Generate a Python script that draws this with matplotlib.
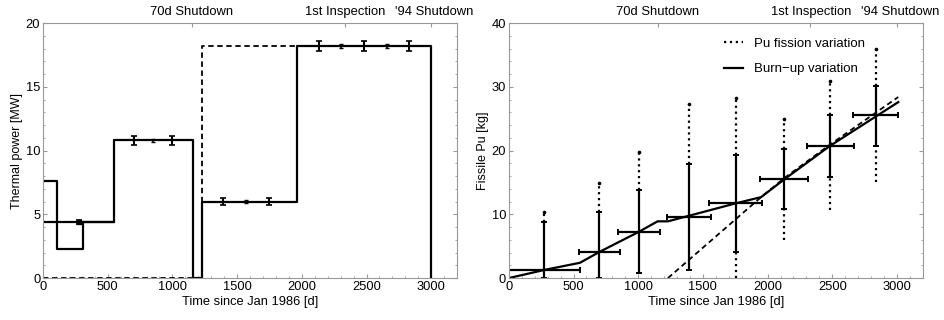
import numpy as np
import matplotlib
matplotlib.use("Agg")
import matplotlib.pyplot as plt
from matplotlib.lines import Line2D

plt.rcParams["font.family"] = ["Liberation Sans", "DejaVu Sans"]

# left panel: thermal power history (step edges)
power_x = [0, 110, 110, 310, 310, 550, 550, 1160, 1160, 1230, 1230, 1960, 1960, 3000, 3000]
power_y = [7.6, 7.6, 2.3, 2.3, 4.4, 4.4, 10.8, 10.8, 0, 0, 6.0, 6.0, 18.2, 18.2, 0]
avg_x = [0, 550]
avg_y = [4.4, 4.4]
alt_x = [0, 1230, 1230, 1960]
alt_y = [0, 0, 18.2, 18.2]

pow_err_x = [275, 700, 1000, 1390, 1750, 2130, 2480, 2830]
pow_err_y = [4.4, 10.8, 10.8, 6.0, 6.0, 18.2, 18.2, 18.2]
pow_err = [0.15, 0.35, 0.35, 0.25, 0.25, 0.4, 0.4, 0.4]
pow_mid_x = [850, 1565, 2305, 2655]
pow_mid_y = [10.8, 6.0, 18.2, 18.2]

# right panel: fissile Pu
burn_x = [0, 280, 550, 700, 1000, 1150, 1230, 1750, 1950, 2130, 2480, 3010]
burn_y = [0, 1.3, 2.4, 4.1, 7.2, 8.9, 8.9, 11.7, 12.7, 15.5, 20.7, 27.6]
alt_pu_x = [1230, 1950, 2130, 2480, 3010]
alt_pu_y = [0, 12.7, 15.7, 20.9, 28.4]

pu_x = [275, 700, 1005, 1392, 1753, 2126, 2484, 2835]
pu_y = [1.3, 4.1, 7.2, 9.6, 11.7, 15.5, 20.7, 25.5]
pu_xerr = [275, 160, 160, 170, 205, 185, 180, 175]
burn_lo = [0, 0, 0.8, 1.2, 4.1, 10.9, 15.9, 20.7]
burn_hi = [8.8, 10.3, 13.8, 17.9, 19.3, 20.2, 25.5, 30.2]
fis_lo = [0, 0, 0.8, 1.2, 0, 6.0, 10.6, 15.0]
fis_hi = [10.4, 14.9, 19.8, 27.3, 28.2, 25.0, 30.9, 35.9]

event_ticks = [1150, 2330, 3000]
event_text_x = [1150, 2335, 3025]
event_labels = ["70d Shutdown", "1st Inspection", "'94 Shutdown"]

fig = plt.figure(figsize=(9.44, 3.2), dpi=100)
ax1 = fig.add_axes([0.0456, 0.131, 0.4386, 0.797])
ax2 = fig.add_axes([0.539, 0.131, 0.4386, 0.797])

lw = 1.6

# left
ax1.plot(power_x, power_y, color="black", lw=lw)
ax1.plot(avg_x, avg_y, color="black", lw=lw)
ax1.plot(alt_x, alt_y, color="black", lw=1.3, ls=(0, (3, 2)))
ax1.errorbar(pow_err_x, pow_err_y, yerr=pow_err, fmt="none", ecolor="black",
             elinewidth=1.5, capsize=2.5, capthick=1.2)
ax1.plot(pow_err_x[0], pow_err_y[0], "s", color="black", ms=3.5)
ax1.errorbar(pow_mid_x, pow_mid_y, yerr=0.12, fmt="none", ecolor="black",
             elinewidth=1.2, capsize=1.2, capthick=1)
ax1.set_xlim(0, 3200)
ax1.set_ylim(0, 20)
ax1.set_yticks([0, 5, 10, 15, 20])
ax1.set_yticks(np.arange(0, 20, 1), minor=True)
ax1.set_ylabel("Thermal power [MW]", fontsize=9, labelpad=2)

# right
ax2.vlines(pu_x, fis_lo, burn_lo, colors="black", linestyles=":", lw=1.6)
ax2.vlines(pu_x, burn_hi, fis_hi, colors="black", linestyles=":", lw=1.6)
ax2.plot(pu_x, fis_hi, "o", color="black", ms=1.6)
ax2.plot(burn_x, burn_y, color="black", lw=lw)
ax2.plot(alt_pu_x, alt_pu_y, color="black", lw=1.3, ls=(0, (3, 2)))
yerr = [np.array(pu_y) - np.array(burn_lo), np.array(burn_hi) - np.array(pu_y)]
ax2.errorbar(pu_x, pu_y, xerr=pu_xerr, yerr=yerr, fmt="none", ecolor="black",
             elinewidth=1.6, capsize=2, capthick=1.4)
ax2.set_xlim(0, 3200)
ax2.set_ylim(0, 40)
ax2.set_yticks([0, 10, 20, 30, 40])
ax2.set_yticks(np.arange(0, 40, 2), minor=True)
ax2.set_ylabel("Fissile Pu [kg]", fontsize=9, labelpad=2)

handles = [Line2D([], [], color="black", ls=":", lw=1.6),
           Line2D([], [], color="black", lw=1.6)]
ax2.legend(handles, ["Pu fission variation", "Burn\u2212up variation"],
           loc="upper left", bbox_to_anchor=(0.49, 0.99), frameon=False,
           fontsize=9.5, handlelength=1.5, labelspacing=1.0)

for ax in (ax1, ax2):
    ax.set_xticks([0, 500, 1000, 1500, 2000, 2500, 3000])
    ax.set_xticks(np.arange(0, 3200, 100), minor=True)
    ax.set_xlabel("Time since Jan 1986 [d]", fontsize=9.3, labelpad=2)
    ax.tick_params(which="both", direction="in", top=False, right=True,
                   color="#999999", labelsize=9.3, pad=2)
    ax.tick_params(which="major", length=3)
    ax.tick_params(which="minor", length=1.5)
    for s in ax.spines.values():
        s.set_color("#999999")
        s.set_linewidth(0.8)
    top = ax.secondary_xaxis("top")
    top.set_xticks(event_ticks)
    top.set_xticklabels([])
    top.tick_params(direction="in", length=3, color="#999999")
    top.spines["top"].set_visible(False)
    for xpos, label in zip(event_text_x, event_labels):
        ax.text(xpos, 1.045, label, transform=ax.get_xaxis_transform(),
                ha="center", va="center", fontsize=9.4)

fig.savefig("out.png", dpi=100)
